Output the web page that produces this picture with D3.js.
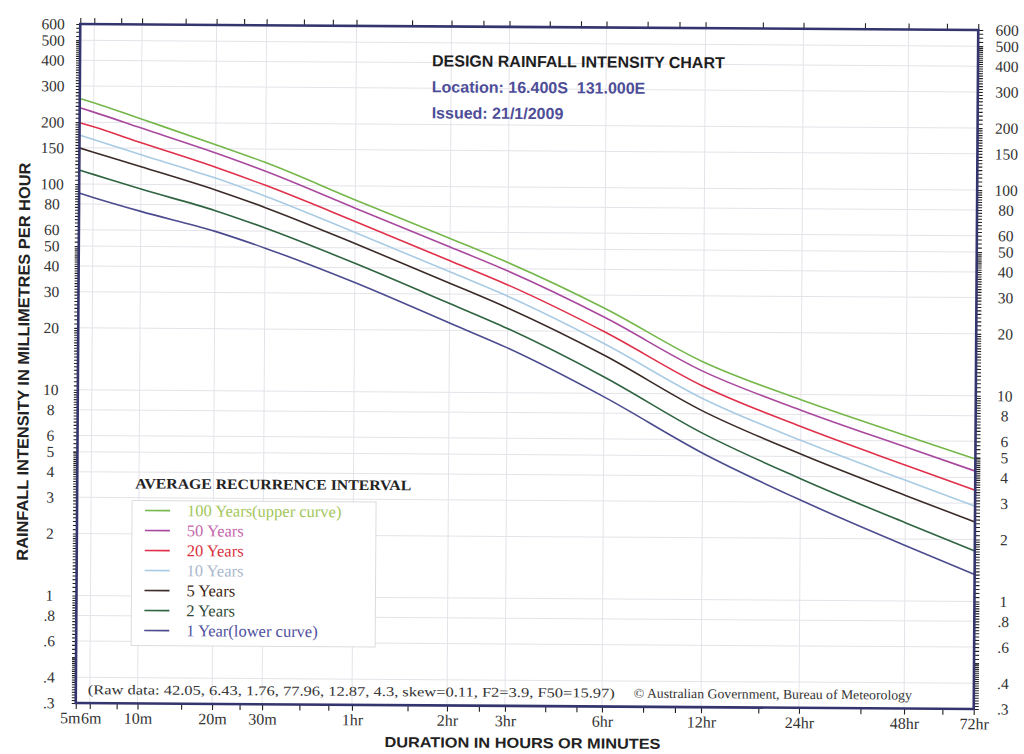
<!DOCTYPE html>
<html>
<head>
<meta charset="utf-8">
<script src="https://cdn.jsdelivr.net/npm/d3@7"></script>
<style>
  body { margin: 0; background: #fff; }
  text { font-family: "Liberation Serif", "Times New Roman", serif; }
  .sans { font-family: "Liberation Sans", Arial, sans-serif; font-weight: bold; }
</style>
</head>
<body>
<script>
// durations (minutes) and their axis labels
const durations = [5, 6, 10, 20, 30, 60, 120, 180, 360, 720, 1440, 2880, 4320];
const durLabels = ["5m", "6m", "10m", "20m", "30m", "1hr", "2hr", "3hr", "6hr", "12hr", "24hr", "48hr", "72hr"];
const minorDurations = [8, 15, 25, 40, 50, 90, 150, 240, 300, 480, 600, 1080, 2160, 3600];

// intensity tick labels (mm/h)
const yTicks = [600, 500, 400, 300, 200, 150, 100, 80, 60, 50, 40, 30, 20, 10, 8, 6, 5, 4, 3, 2, 1, .8, .6, .4, .3];

// intensities (mm/h) for each average recurrence interval, one value per duration
const ari100 = [261, 249, 208, 157, 129, 85.5, 55.9, 42.9, 25.9, 14.3, 9.43, 6.36, 4.92];
const ari50  = [235, 224, 188, 143, 117, 77.96, 50.8, 39, 23.4, 12.87, 8.4, 5.6, 4.3];
const ari20  = [199, 190, 159.5, 122, 100, 67.2, 43.6, 33.4, 19.9, 10.9, 6.99, 4.57, 3.47];
const ari10  = [173, 165, 139.5, 108, 88.5, 59.4, 38.5, 29.4, 17.4, 9.48, 5.99, 3.86, 2.90];
const ari5   = [150, 143, 122, 94.6, 77.9, 52.5, 33.9, 25.8, 15.3, 8.25, 5.14, 3.26, 2.43];
const ari2   = [117, 111.6, 95, 75, 62, 42.05, 27, 20.5, 12, 6.43, 3.9, 2.4, 1.76];
const ari1   = [90.4, 86.2, 74, 59.5, 49.5, 33.9, 21.7, 16.5, 9.6, 5.15, 3.07, 1.86, 1.35];

const legendNames = ["100 Years(upper curve)", "50 Years", "20 Years", "10 Years", "5 Years", "2 Years", "1 Year(lower curve)"];

const series = [
  {name: legendNames[0], values: ari100, line: "#74b74a", label: "#a3c65a"},
  {name: legendNames[1], values: ari50,  line: "#a8489e", label: "#c466ad"},
  {name: legendNames[2], values: ari20,  line: "#e0304a", label: "#d8303e"},
  {name: legendNames[3], values: ari10,  line: "#a9cbe3", label: "#aab8cc"},
  {name: legendNames[4], values: ari5,   line: "#3b2b28", label: "#3a1e12"},
  {name: legendNames[5], values: ari2,   line: "#2f6440", label: "#2e4a36"},
  {name: legendNames[6], values: ari1,   line: "#4b4b8f", label: "#4f4f9e"}
];

// plot frame
const plot = {left: 78, right: 976, top: 27, bottom: 706};
const W = plot.right - plot.left;

// the chart's duration axis is not a plain log scale: it is stretched piecewise
// between the labelled durations (fraction of the axis width for each one)
const durFrac = [0, 0.0156, 0.0688, 0.1518, 0.2075, 0.3076, 0.4134, 0.4780, 0.5860, 0.6963, 0.8054, 0.9224, 1];

const x = d3.scaleLinear()
  .domain(durations.map(Math.log))
  .range(durFrac.map(f => plot.left + f * W));

const y = d3.scaleLog()
  .domain([0.3, 600])
  .range([plot.bottom, plot.top]);

const fmt = d => d < 1 ? String(d).replace(/^0/, "") : String(d);

// minor ticks of the intensity ladder
const yMinor = [];
[0.1, 1, 10, 100].forEach(dec => {
  for (let k = 1; k < 2; k += 0.05) yMinor.push(+(k * dec).toPrecision(4));
  for (let k = 2; k < 5; k += 0.1) yMinor.push(+(k * dec).toPrecision(4));
  for (let k = 5; k < 10; k += 0.25) yMinor.push(+(k * dec).toPrecision(4));
});
const yMinorIn = yMinor.filter(v => v >= 0.3 && v <= 600);

const svg = d3.select("body")
  .append("svg")
    .attr("width", 1024)
    .attr("height", 754);

// the source sheet is scanned slightly askew
const g = svg.append("g").attr("transform", "rotate(0.38,527,366)");

// grid
g.append("g")
  .selectAll("line")
  .data(yTicks.slice(1, -1))
  .enter().append("line")
    .attr("x1", plot.left).attr("x2", plot.right)
    .attr("y1", d => y(d)).attr("y2", d => y(d))
    .attr("stroke", "#e3e3ea");

g.append("g")
  .selectAll("line")
  .data(durations.slice(1, -1))
  .enter().append("line")
    .attr("x1", d => x(Math.log(d))).attr("x2", d => x(Math.log(d)))
    .attr("y1", plot.top).attr("y2", plot.bottom)
    .attr("stroke", "#e3e3ea");

// curves
const line = d3.line()
  .x((d, i) => x(Math.log(durations[i])))
  .y(d => y(d))
  .curve(d3.curveMonotoneX);

g.append("g")
  .selectAll("path")
  .data(series)
  .enter().append("path")
    .attr("d", d => line(d.values))
    .attr("fill", "none")
    .attr("stroke", d => d.line)
    .attr("stroke-width", 1.6);

// axes
const frameColor = "#34346e";

function styleAxis(sel, size) {
  sel.select(".domain").remove();
  sel.selectAll(".tick line").attr("stroke", "#222").attr("stroke-width", 1.1);
  sel.selectAll("text").attr("fill", "#333").attr("font-size", size || 15)
    .attr("font-family", "Liberation Serif, serif");
}

// bottom
const xTickAll = durations.concat(minorDurations).map(Math.log);
g.append("g")
  .attr("transform", `translate(0,${plot.bottom})`)
  .call(d3.axisBottom(x).tickValues(xTickAll).tickSize(6).tickFormat(""))
  .call(styleAxis);
g.append("g")
  .attr("transform", `translate(0,${plot.bottom})`)
  .call(d3.axisBottom(x).tickValues(durations.map(Math.log)).tickSize(0).tickPadding(9)
        .tickFormat((d, i) => durLabels[i]))
  .call(styleAxis, 16)
  .selectAll("text")
    .attr("dx", (d, i) => i === 0 ? "-6" : i === 1 ? "1" : "0");

// top
g.append("g")
  .attr("transform", `translate(0,${plot.top})`)
  .call(d3.axisTop(x).tickValues(xTickAll).tickSize(6).tickFormat(""))
  .call(styleAxis);

// left (labels centred in a column beside the ladder)
g.append("g")
  .attr("transform", `translate(${plot.left},0)`)
  .call(d3.axisLeft(y).tickValues(yMinorIn).tickSize(4).tickFormat(""))
  .call(styleAxis);
g.append("g")
  .attr("transform", `translate(${plot.left},0)`)
  .call(d3.axisLeft(y).tickValues(yTicks).tickSize(0).tickFormat(fmt))
  .call(styleAxis, 15.5)
  .selectAll("text")
    .attr("text-anchor", "middle")
    .attr("x", -27);

// right
g.append("g")
  .attr("transform", `translate(${plot.right},0)`)
  .call(d3.axisRight(y).tickValues(yMinorIn).tickSize(5).tickFormat(""))
  .call(styleAxis);
g.append("g")
  .attr("transform", `translate(${plot.right},0)`)
  .call(d3.axisRight(y).tickValues(yTicks).tickSize(0).tickFormat(fmt))
  .call(styleAxis, 15.5)
  .selectAll("text")
    .attr("text-anchor", "middle")
    .attr("x", 29);

// frame
g.append("rect")
  .attr("x", plot.left).attr("y", plot.top)
  .attr("width", W).attr("height", plot.bottom - plot.top)
  .attr("fill", "none")
  .attr("stroke", frameColor)
  .attr("stroke-width", 2.6);

// axis titles
g.append("text")
  .attr("class", "sans")
  .attr("transform", `translate(29,365) rotate(-90)`)
  .attr("text-anchor", "middle")
  .attr("font-size", 16)
  .attr("fill", "#222")
  .attr("textLength", 398).attr("lengthAdjust", "spacingAndGlyphs")
  .text("RAINFALL INTENSITY IN MILLIMETRES PER HOUR");

g.append("text")
  .attr("class", "sans")
  .attr("x", 525).attr("y", 748)
  .attr("text-anchor", "middle")
  .attr("font-size", 14.5)
  .attr("fill", "#222")
  .attr("textLength", 276).attr("lengthAdjust", "spacingAndGlyphs")
  .text("DURATION IN HOURS OR MINUTES");

// heading block
g.append("text").attr("class", "sans")
  .attr("x", 430).attr("y", 67).attr("font-size", 16).attr("fill", "#1e1e1e")
  .text("DESIGN RAINFALL INTENSITY CHART");
g.append("text").attr("class", "sans")
  .attr("x", 430).attr("y", 93).attr("font-size", 16).attr("fill", "#4d4d98")
  .attr("xml:space", "preserve")
  .text("Location: 16.400S  131.000E");
g.append("text").attr("class", "sans")
  .attr("x", 430).attr("y", 119).attr("font-size", 16).attr("fill", "#4d4d98")
  .text("Issued: 21/1/2009");

// legend
g.append("text")
  .attr("x", 136).attr("y", 491)
  .attr("font-size", 14.5).attr("font-weight", "bold").attr("fill", "#222")
  .attr("textLength", 276).attr("lengthAdjust", "spacingAndGlyphs")
  .text("AVERAGE RECURRENCE INTERVAL");

g.append("rect")
  .attr("x", 133).attr("y", 503)
  .attr("width", 244).attr("height", 145)
  .attr("fill", "#fff")
  .attr("stroke", "#dcdcdc");

const legendRow = d3.scaleBand().domain(legendNames).range([503, 643]);

const items = g.append("g")
  .selectAll("g")
  .data(series)
  .enter().append("g")
    .attr("transform", d => `translate(0,${legendRow(d.name) + legendRow.bandwidth() / 2})`);
items.append("line")
  .attr("x1", 146).attr("x2", 171)
  .attr("stroke", d => d.line)
  .attr("stroke-width", 1.6);
items.append("text")
  .attr("x", 188).attr("dy", "0.33em")
  .attr("font-size", 16.5)
  .attr("fill", d => d.label)
  .text(d => d.name);

// footnotes
g.append("text")
  .attr("x", 90).attr("y", 697)
  .attr("font-size", 13.5).attr("fill", "#333")
  .attr("textLength", 527).attr("lengthAdjust", "spacingAndGlyphs")
  .text("(Raw data: 42.05, 6.43, 1.76, 77.96, 12.87, 4.3, skew=0.11, F2=3.9, F50=15.97)");
g.append("text")
  .attr("x", 636).attr("y", 697)
  .attr("font-size", 13.5).attr("fill", "#333")
  .attr("textLength", 278).attr("lengthAdjust", "spacingAndGlyphs")
  .text("\u00A9 Australian Government, Bureau of Meteorology");
</script>
</body>
</html>
